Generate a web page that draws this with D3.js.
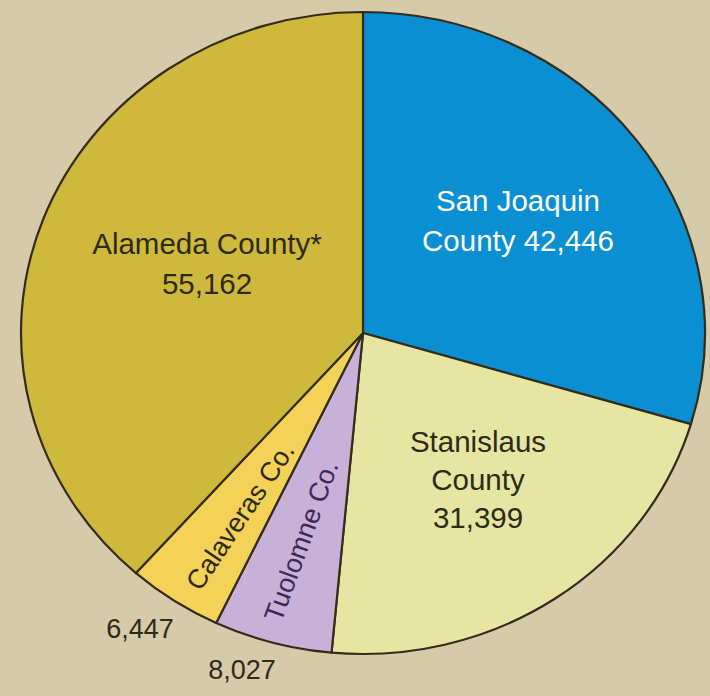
<!DOCTYPE html>
<html><head><meta charset="utf-8">
<script src="https://cdn.jsdelivr.net/npm/d3@7"></script>
<style>html,body{margin:0;padding:0;background:#d5cba9;}svg{display:block;}</style>
</head><body>
<svg id="chart" width="710" height="696"></svg>
<script>
// ---- data ----
const counties = ["San Joaquin County", "Stanislaus County", "Tuolomne Co.", "Calaveras Co.", "Alameda County*"];
const residents = [42446, 31399, 8027, 6447, 55162];
const valueLabels = ["42,446", "31,399", "8,027", "6,447", "55,162"];
const sliceColors = ["#0a90d2", "#e5e6a2", "#c7b1d8", "#f4d257", "#cfb93c"];

// ---- layout ----
const W = 710, H = 696;
const cx = 363, cy = 333, rx = 342, ry = 321;
const svg = d3.select("#chart");
svg.append("rect").attr("width", W).attr("height", H).attr("fill", "#d5cba9");

const pie = d3.pie().sort(null).value(d => d.v)
  .startAngle(0).endAngle(2 * Math.PI);
const data = counties.map((c, i) => ({ name: c, v: residents[i], label: valueLabels[i], color: sliceColors[i] }));
const arcs = pie(data);
const arc = d3.arc().innerRadius(0).outerRadius(rx);

const g = svg.append("g").attr("transform", `translate(${cx},${cy}) scale(1,${ry / rx})`);
g.selectAll("path").data(arcs).join("path")
  .attr("d", arc)
  .attr("fill", d => d.data.color)
  .attr("stroke", "#332c1a")
  .attr("stroke-width", 2.2)
  .attr("vector-effect", "non-scaling-stroke")
  .attr("stroke-linejoin", "round");

const font = "'Liberation Sans', Arial, Helvetica, sans-serif";
const txt = svg.append("g").attr("font-family", font).attr("text-anchor", "middle");

function lines(x, y, arr, size, color, gap) {
  const t = txt.append("text").attr("x", x).attr("y", y).attr("font-size", size).attr("fill", color);
  arr.forEach((s, i) => t.append("tspan").attr("x", x).attr("dy", i === 0 ? 0 : gap).text(s));
  return t;
}
// San Joaquin
lines(518, 211, ["San Joaquin", "County " + data[0].label], 29.5, "#ffffff", 40);
// Alameda
lines(207, 254, [data[4].name, data[4].label], 29.5, "#2e2a18", 40);
// Stanislaus
lines(478, 452, ["Stanislaus", "County", data[1].label], 29.5, "#2e2a18", 38);
// Rotated small labels
txt.append("text").attr("transform", "translate(240,516) rotate(-56)")
  .attr("font-size", 27).attr("fill", "#2e2a18").attr("dy", "0.35em").text(data[3].name);
txt.append("text").attr("transform", "translate(301,541) rotate(-70)")
  .attr("font-size", 27).attr("fill", "#3a2a5a").attr("dy", "0.35em").text(data[2].name);
// Outside values
lines(140, 638, [data[3].label], 27, "#2e2a18", 0);
lines(242, 679, [data[2].label], 27, "#2e2a18", 0);
</script>
</body></html>
